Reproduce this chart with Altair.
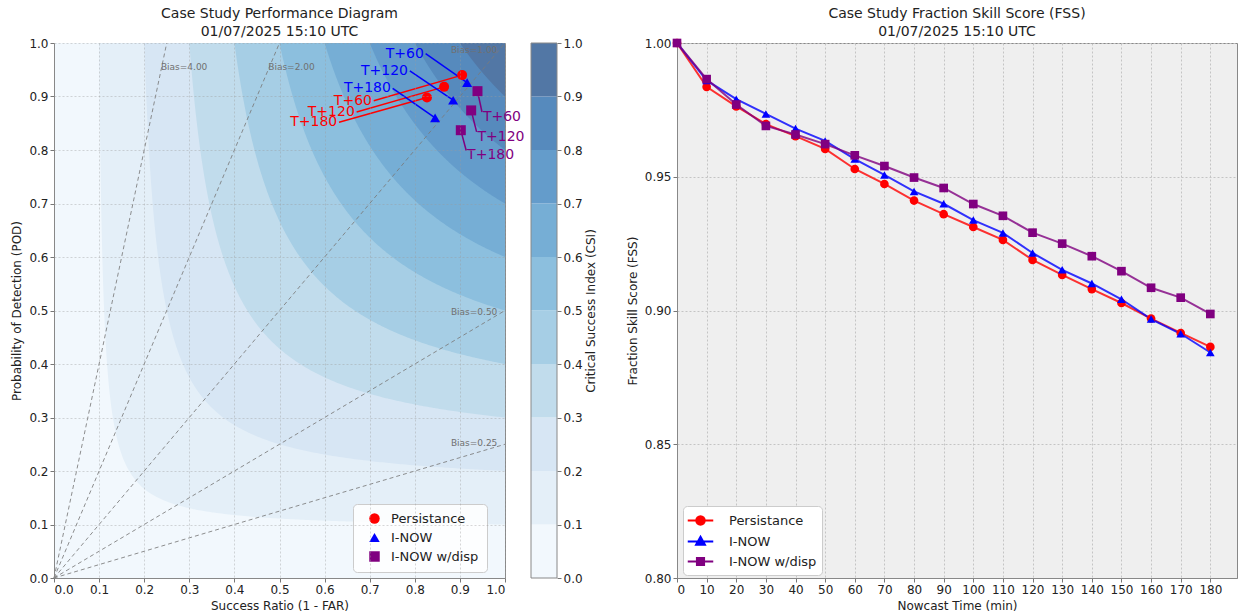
import math
import altair as alt
import numpy as np
import pandas as pd

FONT = "DejaVu Sans"
TEXT = "#222222"

# ---------------- data ----------------
series = ["Persistance", "I-NOW", "I-NOW w/disp"]
series_colors = ["#ff0000", "#0000ff", "#800080"]
series_shapes = ["circle", "triangle-up", "square"]

horizons = ["T+60", "T+120", "T+180"]
pers_sr = [0.905, 0.865, 0.827]
pers_pod = [0.940, 0.918, 0.898]
inow_sr = [0.916, 0.885, 0.845]
inow_pod = [0.926, 0.893, 0.860]
disp_sr = [0.939, 0.925, 0.902]
disp_pod = [0.910, 0.874, 0.837]

# annotation label anchors (data coords)
pers_lab_sr = [0.705, 0.667, 0.628]
pers_lab_pod = [0.892, 0.871, 0.852]
inow_lab_sr = [0.820, 0.785, 0.747]
inow_lab_pod = [0.980, 0.948, 0.915]
disp_lab_sr = [0.951, 0.939, 0.916]
disp_lab_pod = [0.862, 0.825, 0.790]

times = [0, 10, 20, 30, 40, 50, 60, 70, 80, 90, 100, 110, 120, 130, 140, 150, 160, 170, 180]
pers_fss = [1.0, 0.9836, 0.9763, 0.9697, 0.9652, 0.9604, 0.9529, 0.9473, 0.9411, 0.9360,
            0.9312, 0.9264, 0.9189, 0.9133, 0.9080, 0.9028, 0.8970, 0.8916, 0.8864]
inow_fss = [1.0, 0.9860, 0.9790, 0.9735, 0.9680, 0.9634, 0.9566, 0.9507, 0.9445, 0.9399,
            0.9338, 0.9290, 0.9215, 0.9152, 0.9101, 0.9042, 0.8968, 0.8913, 0.8843]
disp_fss = [1.0, 0.9865, 0.9770, 0.9690, 0.9658, 0.9622, 0.9580, 0.9540, 0.9497, 0.9458,
            0.9398, 0.9354, 0.9291, 0.9250, 0.9203, 0.9147, 0.9085, 0.9048, 0.8987]

csi_lo = [0.0, 0.1, 0.2, 0.3, 0.4, 0.5, 0.6, 0.7, 0.8, 0.9]
csi_hi = [0.1, 0.2, 0.3, 0.4, 0.5, 0.6, 0.7, 0.8, 0.9, 1.0]
csi_colors = ["#f2f8fd", "#e4eff8", "#d7e6f4", "#c1dcec", "#a6cee5",
              "#8cbfde", "#76aed5", "#649ccb", "#568abd", "#5277a5"]
unit_ticks = [0.0, 0.1, 0.2, 0.3, 0.4, 0.5, 0.6, 0.7, 0.8, 0.9, 1.0]
fss_ticks = [0.80, 0.85, 0.90, 0.95, 1.00]

bias_vals = [4.0, 2.0, 1.0, 0.5, 0.25]
bias_lab_sr = [0.237, 0.475, 0.88, 0.88, 0.88]
bias_lab_pod = [0.955, 0.955, 0.987, 0.497, 0.252]

# ---------------- left: performance diagram ----------------
sr_scale = alt.Scale(domain=[0, 1], nice=False, zero=False)
pod_scale = alt.Scale(domain=[0, 1], nice=False, zero=False)
grid_kw = dict(grid=True, gridDash=[2, 2], gridColor="#9a9a9a", gridOpacity=0.4)
x_axis = alt.Axis(values=unit_ticks, format=".1f", title="Success Ratio (1 - FAR)", zindex=1, **grid_kw)
y_axis = alt.Axis(values=unit_ticks, format=".1f", title="Probability of Detection (POD)", zindex=1, **grid_kw)


def SX(f):
    return alt.X(f, type="quantitative", scale=sr_scale, axis=x_axis)


def PY(f):
    return alt.Y(f, type="quantitative", scale=pod_scale, axis=y_axis, stack=None)


layers = []
for lo, col in zip(csi_lo, csi_colors):
    if lo == 0:
        sr_pts = np.array([0.0, 1.0])
        pod_pts = np.array([0.0, 0.0])
    else:
        a = np.linspace(lo, 1.0, 160)
        b = 1.0 / (1.0 / lo + 1.0 - 1.0 / a)
        sr_pts = np.concatenate([a, b])
        pod_pts = np.concatenate([b, a])
        o = np.argsort(sr_pts, kind="stable")
        sr_pts, pod_pts = sr_pts[o], pod_pts[o]
    df = pd.DataFrame({"sr": sr_pts, "pod": pod_pts, "top": 1.0})
    layers.append(
        alt.Chart(df).mark_area(color=col, opacity=1, interpolate="linear")
        .encode(x=SX("sr"), y=PY("pod"), y2="top")
    )

bias_df = pd.DataFrame({
    "x0": 0.0, "y0": 0.0,
    "x1": [min(1.0, 1.0 / b) for b in bias_vals],
    "y1": [min(1.0, b) for b in bias_vals],
    "lx": bias_lab_sr, "ly": bias_lab_pod,
    "label": [f"Bias={b:.2f}" for b in bias_vals],
})
layers.append(
    alt.Chart(bias_df).mark_rule(color="#7a7a7a", strokeDash=[4, 3], strokeWidth=1, opacity=0.85)
    .encode(x=SX("x0"), y=PY("y0"), x2="x1", y2="y1")
)
layers.append(
    alt.Chart(bias_df).mark_text(align="left", baseline="middle", fontSize=9, color="#707070", font=FONT)
    .encode(x=SX("lx"), y=PY("ly"), text="label")
)

ann_specs = [
    (pers_sr, pers_pod, pers_lab_sr, pers_lab_pod, series_colors[0], "right"),
    (inow_sr, inow_pod, inow_lab_sr, inow_lab_pod, series_colors[1], "right"),
    (disp_sr, disp_pod, disp_lab_sr, disp_lab_pod, series_colors[2], "left"),
]
for sr, pod, lsr, lpod, col, align in ann_specs:
    if align == "right":
        x0 = [v + 0.004 for v in lsr]
        y0 = list(lpod)
    else:
        x0 = [v - 0.002 for v in lsr]
        y0 = [v + 0.009 for v in lpod]
    adf = pd.DataFrame({"sr": sr, "pod": pod, "x0": x0, "y0": y0,
                        "lx": lsr, "ly": lpod, "label": horizons})
    layers.append(
        alt.Chart(adf).mark_rule(color=col, strokeWidth=1.5)
        .encode(x=SX("x0"), y=PY("y0"), x2="sr", y2="pod")
    )
    layers.append(
        alt.Chart(adf).mark_text(align=align, baseline="middle", fontSize=14, color=col, font=FONT)
        .encode(x=SX("lx"), y=PY("ly"), text="label")
    )

pts_df = pd.DataFrame({
    "series": [s for s in series for _ in horizons],
    "sr": pers_sr + inow_sr + disp_sr,
    "pod": pers_pod + inow_pod + disp_pod,
})
left_legend = alt.Legend(title=None, orient="none", legendX=299, legendY=461,
                         fillColor="rgba(255,255,255,0.85)", strokeColor="#cccccc",
                         padding=8, cornerRadius=4, labelFontSize=13, labelFont=FONT,
                         labelColor=TEXT, symbolSize=110, rowPadding=5, labelOffset=10,
                         symbolOffset=7)
layers.append(
    alt.Chart(pts_df).mark_point(filled=True, size=100, opacity=1)
    .encode(
        x=SX("sr"), y=PY("pod"),
        color=alt.Color("series:N", scale=alt.Scale(domain=series, range=series_colors), legend=left_legend),
        shape=alt.Shape("series:N", scale=alt.Scale(domain=series, range=series_shapes), legend=left_legend),
    )
)
main = alt.layer(*layers)

cb_scale = alt.Scale(domain=[0, 1], nice=False, zero=False)
cb_axis = alt.Axis(orient="right", offset=52, values=unit_ticks, format=".1f",
                   title="Critical Success Index (CSI)", titleAngle=270, titleBaseline="top",
                   domain=False, grid=False, titlePadding=3)
cb_df = pd.DataFrame({"lo": csi_lo, "hi": csi_hi, "col": csi_colors})
cb = alt.Chart(cb_df).mark_rect().encode(
    x=alt.value(477), x2=alt.value(503),
    y=alt.Y("lo:Q", scale=cb_scale, axis=cb_axis), y2="hi",
    fill=alt.Fill("col:N", scale=None),
)
cb_outline = alt.Chart(pd.DataFrame({"lo": [0.0], "hi": [1.0]})).mark_rect(
    fillOpacity=0, stroke="#888888", strokeWidth=1
).encode(
    x=alt.value(477), x2=alt.value(503),
    y=alt.Y("lo:Q", scale=cb_scale, axis=cb_axis), y2="hi",
)
colorbar = alt.layer(cb, cb_outline)

left = alt.layer(main, colorbar).resolve_scale(y="independent").properties(
    width=451, height=535,
    title=alt.TitleParams(text=["Case Study Performance Diagram", "01/07/2025 15:10 UTC"],
                          fontSize=14, font=FONT, fontWeight="normal", anchor="middle",
                          frame="group", offset=-2, color=TEXT, lineHeight=18),
)

# ---------------- right: FSS ----------------
fss_df = pd.DataFrame({
    "series": [s for s in series for _ in times],
    "time": times * 3,
    "fss": pers_fss + inow_fss + disp_fss,
})
t_scale = alt.Scale(domain=[0, 189], nice=False, zero=False)
f_scale = alt.Scale(domain=[0.8, 1.0], nice=False, zero=False)
r_grid = dict(grid=True, gridDash=[2, 2], gridColor="#c4c4c4", gridOpacity=1)
tx_axis = alt.Axis(values=times, format="d", title="Nowcast Time (min)", **r_grid)
fy_axis = alt.Axis(values=fss_ticks, format=".2f", title="Fraction Skill Score (FSS)", **r_grid)
rx = alt.X("time:Q", scale=t_scale, axis=tx_axis)
ry = alt.Y("fss:Q", scale=f_scale, axis=fy_axis)

r_layers = []
for s, col in zip(series, series_colors):
    r_layers.append(
        alt.Chart(fss_df).transform_filter(alt.datum.series == s)
        .mark_line(strokeWidth=2, opacity=0.8, color=col)
        .encode(x=rx, y=ry)
    )
for s, col, shp in zip(series, series_colors, series_shapes):
    r_layers.append(
        alt.Chart(fss_df).transform_filter(alt.datum.series == s)
        .mark_point(filled=True, size=75, opacity=1, shape=shp, color=col)
        .encode(x=rx, y=ry)
    )

# legend symbols: a line with the marker on it
poly = "".join(
    ("M" if k == 0 else "L") + f"{0.5 * math.cos(k * math.pi / 8):.3f},{0.5 * math.sin(k * math.pi / 8):.3f}"
    for k in range(16)
) + "Z"
circle_path = "M-1.5,0L1.5,0" + poly
tri_path = "M-1.5,0L1.5,0M0,-0.55L0.52,0.38L-0.52,0.38Z"
sq_path = "M-1.5,0L1.5,0M-0.42,-0.42L0.42,-0.42L0.42,0.42L-0.42,0.42Z"
right_legend = alt.Legend(
    title=None, orient="none", legendX=6, legendY=463, fillColor="white", strokeColor="#cccccc",
    padding=5, cornerRadius=4, labelFontSize=13, labelFont=FONT, labelColor=TEXT,
    symbolSize=289, symbolStrokeWidth=2, symbolOpacity=1, rowPadding=3, labelOffset=19,
    symbolOffset=3,
)
r_layers.append(
    alt.Chart(fss_df).transform_filter(alt.datum.time == 0)
    .mark_point(filled=True, size=289, opacity=0, strokeWidth=2)
    .encode(
        x=rx, y=ry,
        fill=alt.Fill("series:N", scale=alt.Scale(domain=series, range=series_colors), legend=right_legend),
        stroke=alt.Stroke("series:N", scale=alt.Scale(domain=series, range=series_colors), legend=right_legend),
        shape=alt.Shape("series:N", scale=alt.Scale(domain=series, range=[circle_path, tri_path, sq_path]),
                        legend=right_legend),
    )
)

right = alt.layer(*r_layers).properties(
    width=560, height=535,
    view=alt.ViewBackground(fill="#efefef", stroke="#888888"),
    title=alt.TitleParams(text=["Case Study Fraction Skill Score (FSS)", "01/07/2025 15:10 UTC"],
                          fontSize=14, font=FONT, fontWeight="normal", anchor="middle",
                          frame="group", offset=-2, color=TEXT, lineHeight=18),
)

chart = (
    alt.hconcat(left, right, spacing=28)
    .resolve_scale(color="independent", shape="independent", fill="independent", stroke="independent")
    .resolve_legend(color="independent", shape="independent", fill="independent", stroke="independent")
    .properties(padding={"left": 10, "top": 6, "right": 0, "bottom": 2}, background="white")
    .configure_axis(labelFont=FONT, titleFont=FONT, labelFontSize=12, titleFontSize=12,
                    labelColor=TEXT, titleColor=TEXT, titleFontWeight="normal",
                    tickColor="#777777", domainColor="#888888", tickSize=4, labelPadding=2,
                    titlePadding=5)
    .configure_view(stroke="#888888")
    .configure_text(font=FONT)
)

chart.save("out.html", embed_options={"renderer": "svg", "actions": False})
